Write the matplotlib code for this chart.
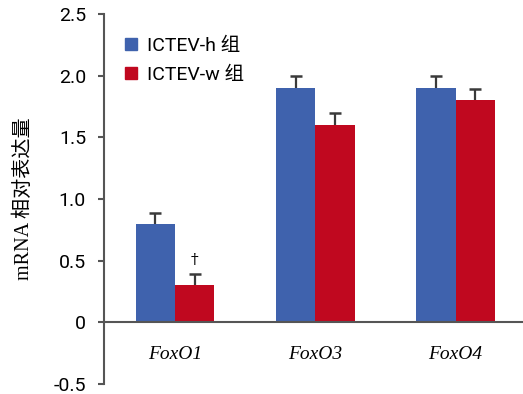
import matplotlib.pyplot as plt
import numpy as np
from matplotlib.lines import Line2D

plt.rcParams['font.family'] = ['Roboto', 'Noto Sans CJK SC', 'DejaVu Sans']

genes = ['FoxO1', 'FoxO3', 'FoxO4']
h_group = [0.80, 1.90, 1.90]
h_err = [0.09, 0.10, 0.10]
w_group = [0.30, 1.60, 1.80]
w_err = [0.09, 0.10, 0.09]
labels = ['ICTEV-h 组', 'ICTEV-w 组']

blue = '#3f62ad'
red = '#c0081f'
err_col = '#3a3a3a'

fig = plt.figure(figsize=(5.23, 3.94), dpi=100)
ax = fig.add_axes([0.199, 0.025, 0.801, 0.94])

x = np.arange(len(genes))
w = 0.28
ax.bar(x - w / 2, h_group, w, color=blue, zorder=2)
ax.bar(x + w / 2, w_group, w, color=red, zorder=2)

# upward-only error bars: stem + top cap
for xs, vals, errs in [(x - w / 2, h_group, h_err), (x + w / 2, w_group, w_err)]:
    tops = np.array(vals) + np.array(errs)
    ax.vlines(xs, vals, tops, color=err_col, linewidth=1.6, zorder=3)
    ax.plot(xs, tops, linestyle='', marker='_', markersize=9,
            markeredgewidth=1.8, color=err_col, zorder=3)

# significance mark
ax.text(x[0] + w / 2, w_group[0] + w_err[0] + 0.06, '†', ha='center', va='bottom',
        fontsize=11, family='DejaVu Serif')

ax.set_xlim(-0.505, 2.48)
ax.set_ylim(-0.5, 2.5)
ax.set_yticks([-0.5, 0, 0.5, 1.0, 1.5, 2.0, 2.5])
ax.set_yticklabels(['-0.5', '0', '0.5', '1.0', '1.5', '2.0', '2.5'])
ax.tick_params(axis='y', labelsize=14, length=4, width=1.5, color='#555555', pad=9)
ax.set_xticks([])

ax.spines['top'].set_visible(False)
ax.spines['right'].set_visible(False)
ax.spines['left'].set_linewidth(1.5)
ax.spines['left'].set_color('#555555')
ax.spines['bottom'].set_position(('data', 0))
ax.spines['bottom'].set_linewidth(1.5)
ax.spines['bottom'].set_color('#555555')

for xi, g in zip(x, genes):
    ax.text(xi, -0.26, g, ha='center', va='center', fontsize=14,
            style='italic', family='Liberation Serif')

ax.set_ylabel('mRNA 相对表达量', fontsize=14.5,
              family=['Liberation Serif', 'Noto Sans CJK SC'], labelpad=14)

handles = [Line2D([], [], marker='s', linestyle='', markersize=8, color=blue),
           Line2D([], [], marker='s', linestyle='', markersize=8, color=red)]
ax.legend(handles, labels, loc='upper left', bbox_to_anchor=(0.0, 0.985),
          frameon=False, fontsize=14, handletextpad=0.3, labelspacing=0.55,
          handlelength=1.0)

fig.savefig('out.png', dpi=100)
